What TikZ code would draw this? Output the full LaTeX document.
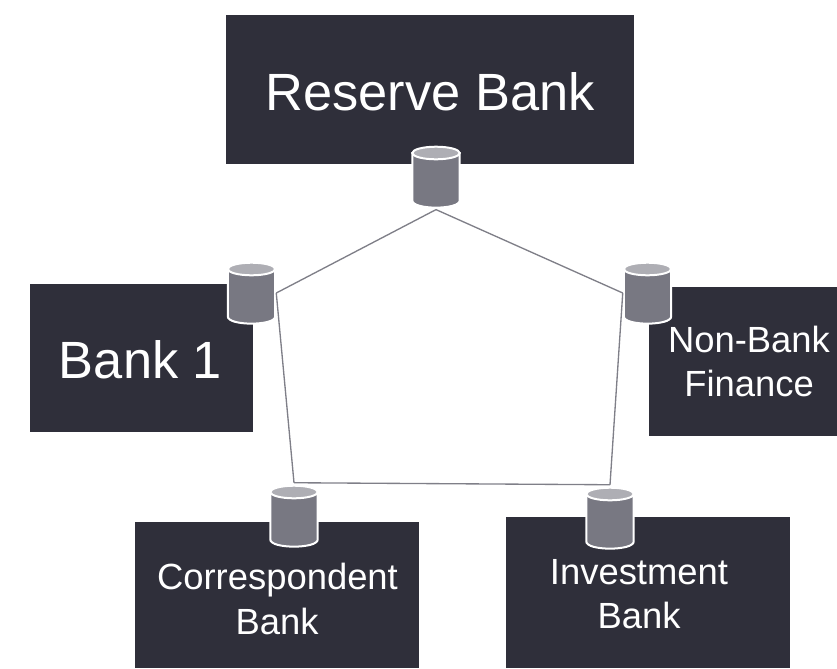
\documentclass[tikz,border=0pt]{standalone}
\usepackage{fontspec}
\setmainfont{Liberation Sans}
\usetikzlibrary{calc}
\definecolor{boxdark}{HTML}{2F2F3A}
\definecolor{cylbody}{HTML}{787882}
\definecolor{cyltop}{HTML}{AEAEB4}
\definecolor{linkgrey}{HTML}{7F7F88}
\tikzset{
  x=0.75pt,y=-0.75pt,
  bankbox/.style={fill=boxdark,draw=none,inner sep=0pt,anchor=north west},
  ledgerframe/.style={draw=none,inner sep=0pt,minimum width=36.75pt,minimum height=46.5pt},
  ledgerbody/.style={fill=cylbody,draw=white,line width=1.5pt},
  ledgerend/.style={fill=cyltop,draw=white,line width=1.5pt},
  link/.style={draw=linkgrey,line width=1pt},
  bigtext/.style={text=white,font=\fontsize{39.3}{47}\selectfont,inner sep=0pt,anchor=base},
  smalltext/.style={text=white,font=\fontsize{27.3}{33}\selectfont,inner sep=0pt,anchor=base},
}
\newcommand{\ledgerat}[3]{%
  \node[ledgerframe] (#1) at (#2,#3) {};
  \begin{scope}[shift={(#2,#3)}]
    \path[ledgerbody] (-23.7,-24) -- (-23.7,23.5) .. controls (-23.7,33) and (23.7,33) .. (23.7,23.5) -- (23.7,-24) -- cycle;
    \path[ledgerend] (0,-24) ellipse [x radius=23.7, y radius=6.3];
  \end{scope}
}
\begin{document}
\begin{tikzpicture}
\useasboundingbox (0,0) rectangle (837,668);
\node[bankbox,minimum width=306pt,minimum height=111.75pt] (reserve) at (226,15) {};
\node[bankbox,minimum width=167.25pt,minimum height=111pt] (bank) at (30,284) {};
\node[bankbox,minimum width=141pt,minimum height=111.75pt] (nonbank) at (649,287) {};
\node[bankbox,minimum width=213pt,minimum height=109.5pt] (corr) at (135,522) {};
\node[bankbox,minimum width=213pt,minimum height=113.25pt] (invest) at (506,517) {};
\node[bigtext] (reservetext) at (430,110) {Reserve Bank};
\node[bigtext] (banktext) at (140.5,378.5) {Bank 1};
\node[smalltext] (nonbanktext) at (749,352) {Non-Bank};
\node[smalltext] (financetext) at (749,396) {Finance};
\node[smalltext] (corrtext) at (277.5,589.5) {Correspondent};
\node[smalltext] (corrbanktext) at (277,634) {Bank};
\node[smalltext] (investtext) at (639,584.5) {Investment};
\node[smalltext] (investbanktext) at (639,628) {Bank};
\ledgerat{cylreserve}{436}{177}
\ledgerat{cylbank}{251.5}{293}
\ledgerat{cylnonbank}{647.5}{293}
\ledgerat{cylcorr}{294}{516}
\ledgerat{cylinvest}{610}{518}
\coordinate (ptcorr) at ($(cylcorr.north)+(0,1.5pt)$);
\coordinate (ptinvest) at ($(cylinvest.north)+(0,1.5pt)$);
\coordinate (ptreserve) at ($(cylreserve.south)+(0,-1pt)$);
\draw[link] (ptreserve) -- (cylbank.east);
\draw[link] (cylbank.east) -- (ptcorr);
\draw[link] (ptcorr) -- (ptinvest);
\draw[link] (ptinvest) -- (cylnonbank.west);
\draw[link] (cylnonbank.west) -- (ptreserve);
\end{tikzpicture}
\end{document}
